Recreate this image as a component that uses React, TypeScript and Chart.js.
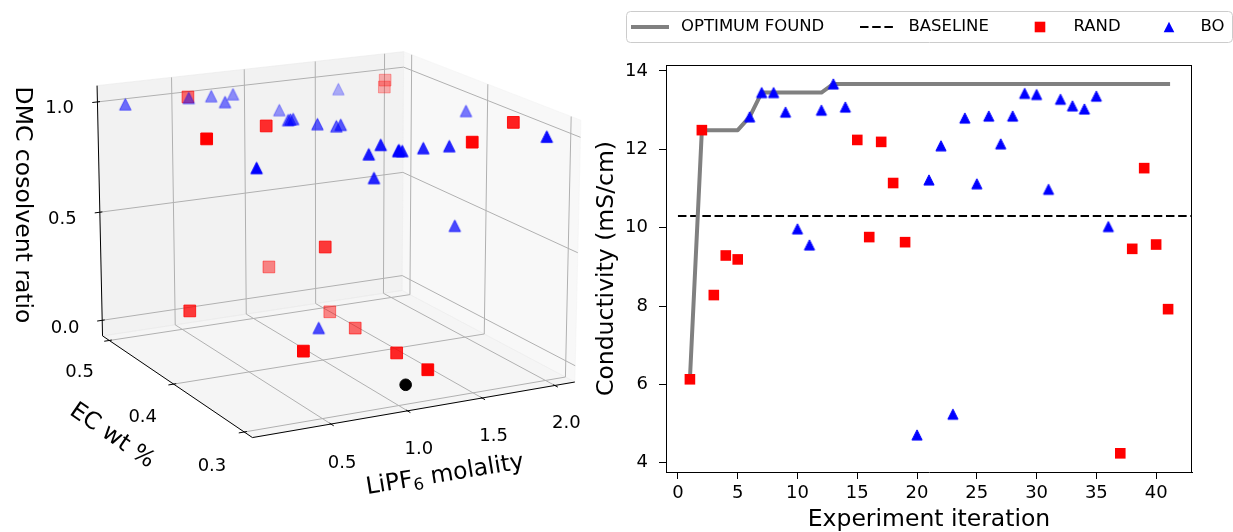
import React, { useEffect, useRef } from "react";
import { Chart, registerables } from "chart.js";

Chart.register(...registerables);

const FONT = "DejaVu Sans";

// ================= Right panel: conductivity vs. experiment iteration =================
const RAND_ITER = [1, 2, 3, 4, 5, 15, 16, 17, 18, 19, 37, 38, 39, 40, 41];
const RAND_COND = [6.13, 12.49, 8.28, 9.29, 9.19, 12.24, 9.76, 12.19, 11.14, 9.63, 4.24, 9.46, 11.52, 9.57, 7.92];
const BO_ITER = [6, 7, 8, 9, 10, 11, 12, 13, 14, 20, 21, 22, 23, 24, 25, 26, 27, 28, 29, 30, 31, 32, 33, 34, 35, 36];
const BO_COND = [12.83, 13.45, 13.45, 12.95, 9.97, 9.56, 13.0, 13.67, 13.08, 4.71, 11.22, 12.09, 5.24, 12.8, 11.12, 12.85, 12.14, 12.85, 13.43, 13.4, 10.98, 13.28, 13.11, 13.03, 13.36, 10.03];
const BASELINE_COND = 10.3;
const BASELINE_ITER_SPAN = [0, 43];
const ITER_TICKS = [0, 5, 10, 15, 20, 25, 30, 35, 40];
const COND_TICKS = [4, 6, 8, 10, 12, 14];
const ITER_RANGE = [-1, 43];
const COND_RANGE = [3.763, 14.153];

// ================= Left panel: 3D composition space =================
const RAND_LIPF6 = [0.561, 0.236, 0.729, 1.942, 1.931, 1.984, 1.641, 1.007, 0.988, 0.236, 1.293, 1.3, 0.608, 1.228, 1.236];
const RAND_EC = [0.5, 0.4, 0.422, 0.499, 0.498, 0.341, 0.33, 0.398, 0.474, 0.428, 0.449, 0.415, 0.347, 0.346, 0.308];
const RAND_DMC = [0.995, 0.981, 0.965, 0.97, 0.94, 1.0, 0.958, 0.442, 0.219, 0.176, 0.025, 0.013, 0.114, 0.042, 0.042];

const BO_LIPF6 = [0.131, 0.549, 0.688, 0.7, 0.828, 1.529, 1.095, 0.958, 0.958, 1.084, 1.193, 1.193, 0.405, 1.155, 1.086, 1.22, 1.241, 1.42, 1.558, 1.142, 2.004, 1.975, 1.679, 0.878, 1.23, 0.958];
const BO_EC = [0.498, 0.496, 0.493, 0.475, 0.491, 0.484, 0.48, 0.439, 0.432, 0.424, 0.42, 0.414, 0.367, 0.354, 0.356, 0.344, 0.343, 0.35, 0.343, 0.36, 0.403, 0.3, 0.357, 0.381, 0.345, 0.436];
const BO_DMC = [0.998, 0.997, 0.999, 0.997, 1.0, 0.98, 0.923, 0.948, 0.963, 0.942, 0.93, 0.945, 0.893, 0.95, 0.912, 0.933, 0.933, 0.92, 0.928, 0.798, 0.959, 1.0, 0.545, 0.123, 0.935, 0.955];

const BASE_LIPF6 = [1.072];
const BASE_EC = [0.305];
const BASE_DMC = [0.0];

const LIPF6_TICKS = [0.5, 1.0, 1.5, 2.0];
const EC_TICKS = [0.3, 0.4, 0.5];
const DMC_TICKS = [0.0, 0.5, 1.0];

const LI_LIM = [0.043, 2.097];
const EC_LIM = [0.2934, 0.5066];
const DMC_LIM = [-0.05, 1.05];

// camera (matplotlib-like perspective view)
const VIEW_AZIM = -117.5;
const VIEW_ELEV = 15.6;
const VIEW_DIST = 8.75;
const VIEW_SCALE = 2975;
const VIEW_CX = 333;
const VIEW_CY = 232;
const Z_ASPECT = 0.75;

const GRID_COLOR = "#b0b0b0";

function padLim(lim: number[]) {
  const r = (lim[1] - lim[0]) / 48;
  return [lim[0] - r, lim[1] + r];
}

function project(li: number, ec: number, dmc: number, off: number[] = [0, 0, 0]) {
  const X = (li - (LI_LIM[0] + LI_LIM[1]) / 2) / (LI_LIM[1] - LI_LIM[0]) + off[0];
  const Y = (ec - (EC_LIM[0] + EC_LIM[1]) / 2) / (EC_LIM[1] - EC_LIM[0]) + off[1];
  const Z = ((dmc - (DMC_LIM[0] + DMC_LIM[1]) / 2) / (DMC_LIM[1] - DMC_LIM[0])) * Z_ASPECT + off[2];
  const az = (VIEW_AZIM * Math.PI) / 180;
  const el = (VIEW_ELEV * Math.PI) / 180;
  const ca = Math.cos(az), sa = Math.sin(az), ce = Math.cos(el), se = Math.sin(el);
  const hr = -X * sa + Y * ca;
  const he = X * ca + Y * sa;
  const up = -se * he + ce * Z;
  const ez = ce * he + se * Z;
  const depth = VIEW_DIST - ez;
  return { x: VIEW_CX + (VIEW_SCALE * hr) / depth, y: VIEW_CY - (VIEW_SCALE * up) / depth, depth };
}

// matplotlib-like "^" marker (width == height, centred on its bounding box)
function triangleImage(size: number, color: string) {
  const n = Math.ceil(size) + 3;
  const c = document.createElement("canvas");
  c.width = n;
  c.height = n;
  const g = c.getContext("2d") as CanvasRenderingContext2D;
  const m = n / 2, h = size / 2;
  g.beginPath();
  g.moveTo(m, m - h);
  g.lineTo(m + h, m + h);
  g.lineTo(m - h, m + h);
  g.closePath();
  g.fillStyle = color;
  g.fill();
  g.lineWidth = 1;
  g.lineJoin = "miter";
  g.strokeStyle = color;
  g.stroke();
  return c;
}

function series3d(li: number[], ec: number[], dmc: number[], rgb: string) {
  const pts = li.map((v, i) => project(v, ec[i], dmc[i]));
  pts.sort((a, b) => b.depth - a.depth);
  const ds = pts.map((p) => p.depth);
  const dmin = Math.min(...ds), dmax = Math.max(...ds);
  const colors = pts.map((p) => {
    const a = dmax > dmin ? 1 - (0.7 * (p.depth - dmin)) / (dmax - dmin) : 1;
    return `rgba(${rgb},${a.toFixed(3)})`;
  });
  return { data: pts.map((p) => ({ x: p.x, y: p.y })), colors };
}

function polyline(ctx: CanvasRenderingContext2D, pts: { x: number; y: number }[], color: string, w: number) {
  ctx.beginPath();
  pts.forEach((p, i) => (i ? ctx.lineTo(p.x, p.y) : ctx.moveTo(p.x, p.y)));
  ctx.strokeStyle = color;
  ctx.lineWidth = w;
  ctx.stroke();
}

const box3dPlugin = {
  id: "box3d",
  beforeDatasetsDraw(chart: any) {
    const ctx: CanvasRenderingContext2D = chart.ctx;
    const sx = chart.scales.x, sy = chart.scales.y;
    const [l0, l1] = padLim(LI_LIM);
    const [e0, e1] = padLim(EC_LIM);
    const [z0, z1] = padLim(DMC_LIM);
    const P = (a: number, b: number, c: number, off?: number[]) => {
      const p = project(a, b, c, off);
      return { x: sx.getPixelForValue(p.x), y: sy.getPixelForValue(p.y) };
    };
    ctx.save();
    const face = (pts: { x: number; y: number }[], color: string) => {
      ctx.beginPath();
      pts.forEach((p, i) => (i ? ctx.lineTo(p.x, p.y) : ctx.moveTo(p.x, p.y)));
      ctx.closePath();
      ctx.fillStyle = color;
      ctx.fill();
      ctx.strokeStyle = color;
      ctx.lineWidth = 1;
      ctx.stroke();
    };
    // panes
    face([P(l0, e1, z0), P(l1, e1, z0), P(l1, e1, z1), P(l0, e1, z1)], "rgba(230,230,230,0.5)");
    face([P(l1, e0, z0), P(l1, e1, z0), P(l1, e1, z1), P(l1, e0, z1)], "rgba(242,242,242,0.5)");
    face([P(l0, e0, z0), P(l1, e0, z0), P(l1, e1, z0), P(l0, e1, z0)], "rgba(236,236,236,0.5)");
    // grid lines
    LIPF6_TICKS.forEach((t) => polyline(ctx, [P(t, e0, z0), P(t, e1, z0), P(t, e1, z1)], GRID_COLOR, 1));
    EC_TICKS.forEach((t) => polyline(ctx, [P(l0, t, z0), P(l1, t, z0), P(l1, t, z1)], GRID_COLOR, 1));
    DMC_TICKS.forEach((t) => polyline(ctx, [P(l0, e1, t), P(l1, e1, t), P(l1, e0, t)], GRID_COLOR, 1));
    // axis lines
    polyline(ctx, [P(l0, e0, z0), P(l1, e0, z0)], "#000", 1);
    polyline(ctx, [P(l0, e0, z0), P(l0, e1, z0)], "#000", 1);
    polyline(ctx, [P(l0, e1, z0), P(l0, e1, z1)], "#000", 1);
    // tick marks
    const dEC = (EC_LIM[1] - EC_LIM[0]) / 12;
    const dLI = (LI_LIM[1] - LI_LIM[0]) / 12;
    LIPF6_TICKS.forEach((t) => polyline(ctx, [P(t, e0 - 0.2 * dEC, z0), P(t, e0 + 0.1 * dEC, z0)], "#000", 1));
    EC_TICKS.forEach((t) => polyline(ctx, [P(l0 - 0.2 * dLI, t, z0), P(l0 + 0.1 * dLI, t, z0)], "#000", 1));
    DMC_TICKS.forEach((t) => polyline(ctx, [P(l0 - 0.2 * dLI, e1, t), P(l0 + 0.1 * dLI, e1, t)], "#000", 1));
    // tick labels
    ctx.fillStyle = "#000";
    ctx.textAlign = "center";
    ctx.textBaseline = "middle";
    ctx.font = `18px "${FONT}"`;
    LIPF6_TICKS.forEach((t) => {
      const p = P(t, e0, z0, [0, -0.067, -0.0948]);
      ctx.fillText(t.toFixed(1), p.x, p.y);
    });
    EC_TICKS.forEach((t) => {
      const p = P(l0, t, z0, [-0.0995, 0, -0.0849]);
      ctx.fillText(t.toFixed(1), p.x, p.y);
    });
    DMC_TICKS.forEach((t) => {
      const p = P(l0, e1, t, [-0.1304, -0.021, 0]);
      ctx.fillText(t.toFixed(1), p.x, p.y);
    });
    // axis titles
    ctx.font = `23.5px "${FONT}"`;
    ctx.save();
    ctx.translate(22, 205);
    ctx.rotate(Math.PI / 2);
    ctx.fillText("DMC cosolvent ratio", 0, 0);
    ctx.restore();

    ctx.save();
    ctx.translate(112, 436);
    ctx.rotate(0.6);
    ctx.fillText("EC wt %", 0, 0);
    ctx.restore();

    ctx.save();
    ctx.translate(445, 475);
    ctx.rotate(-0.162);
    const big = `23.5px "${FONT}"`;
    const small = `16.5px "${FONT}"`;
    ctx.font = big;
    const w1 = ctx.measureText("LiPF").width;
    const w3 = ctx.measureText(" molality").width;
    ctx.font = small;
    const w2 = ctx.measureText("6").width;
    let x = -(w1 + w2 + w3) / 2;
    ctx.textAlign = "left";
    ctx.font = big;
    ctx.fillText("LiPF", x, 0);
    x += w1;
    ctx.font = small;
    ctx.fillText("6", x, 6);
    x += w2;
    ctx.font = big;
    ctx.fillText(" molality", x, 0);
    ctx.restore();

    ctx.restore();
  },
};

const frameLegendPlugin = {
  id: "frameLegend",
  afterDatasetsDraw(chart: any) {
    const ctx: CanvasRenderingContext2D = chart.ctx;
    const { left, right, top, bottom } = chart.chartArea;
    ctx.save();
    ctx.strokeStyle = "#000";
    ctx.lineWidth = 1;
    ctx.beginPath();
    ctx.moveTo(left, top + 0.5);
    ctx.lineTo(right, top + 0.5);
    ctx.moveTo(right - 0.5, top);
    ctx.lineTo(right - 0.5, bottom);
    ctx.stroke();
    ctx.restore();
  },
  afterDraw(chart: any) {
    const ctx: CanvasRenderingContext2D = chart.ctx;
    const ox = 590;
    const cy = 27;
    ctx.save();
    const bx = 626 - ox + 0.5, by = 11.5, bw = 606, bh = 31, r = 4;
    ctx.beginPath();
    ctx.moveTo(bx + r, by);
    ctx.lineTo(bx + bw - r, by);
    ctx.quadraticCurveTo(bx + bw, by, bx + bw, by + r);
    ctx.lineTo(bx + bw, by + bh - r);
    ctx.quadraticCurveTo(bx + bw, by + bh, bx + bw - r, by + bh);
    ctx.lineTo(bx + r, by + bh);
    ctx.quadraticCurveTo(bx, by + bh, bx, by + bh - r);
    ctx.lineTo(bx, by + r);
    ctx.quadraticCurveTo(bx, by, bx + r, by);
    ctx.closePath();
    ctx.fillStyle = "rgba(255,255,255,0.8)";
    ctx.fill();
    ctx.strokeStyle = "#cccccc";
    ctx.lineWidth = 1;
    ctx.stroke();
    // handles
    ctx.strokeStyle = "#808080";
    ctx.lineWidth = 4;
    ctx.beginPath();
    ctx.moveTo(631 - ox, cy);
    ctx.lineTo(669 - ox, cy);
    ctx.stroke();
    ctx.strokeStyle = "#000";
    ctx.lineWidth = 2;
    ctx.setLineDash([8.5, 3.7]);
    ctx.beginPath();
    ctx.moveTo(860 - ox, cy);
    ctx.lineTo(894 - ox, cy);
    ctx.stroke();
    ctx.setLineDash([]);
    ctx.fillStyle = "#ff0000";
    ctx.fillRect(1040 - ox - 5.3, cy - 5.3, 10.6, 10.6);
    ctx.fillStyle = "#0000ff";
    ctx.beginPath();
    ctx.moveTo(1169 - ox, cy - 5.3);
    ctx.lineTo(1169 - ox + 5.3, cy + 5.3);
    ctx.lineTo(1169 - ox - 5.3, cy + 5.3);
    ctx.closePath();
    ctx.fill();
    // texts
    ctx.fillStyle = "#000";
    ctx.font = `16.5px "${FONT}"`;
    ctx.textAlign = "left";
    ctx.textBaseline = "middle";
    ctx.fillText("OPTIMUM FOUND", 681 - ox, cy);
    ctx.fillText("BASELINE", 908.5 - ox, cy);
    ctx.fillText("RAND", 1073.5 - ox, cy);
    ctx.fillText("BO", 1200.5 - ox, cy);
    ctx.restore();
  },
};

function runningBest() {
  const all: { x: number; y: number }[] = [];
  RAND_ITER.forEach((x, i) => all.push({ x, y: RAND_COND[i] }));
  BO_ITER.forEach((x, i) => all.push({ x, y: BO_COND[i] }));
  all.sort((a, b) => a.x - b.x);
  let best = -Infinity;
  return all.map((p) => {
    best = Math.max(best, p.y);
    return { x: p.x, y: best };
  });
}

export default function App() {
  const leftRef = useRef<HTMLCanvasElement>(null);
  const rightRef = useRef<HTMLCanvasElement>(null);

  useEffect(() => {
    Chart.defaults.font.family = FONT;
    Chart.defaults.color = "#000";

    const bo = series3d(BO_LIPF6, BO_EC, BO_DMC, "0,0,255");
    const rd = series3d(RAND_LIPF6, RAND_EC, RAND_DMC, "255,0,0");
    const base = BASE_LIPF6.map((v, i) => project(v, BASE_EC[i], BASE_DMC[i]));
    const boTriangles3d = bo.colors.map((c) => triangleImage(11.5, c));
    const boTriangle = triangleImage(10.2, "#0000ff");

    const left = new Chart(leftRef.current as HTMLCanvasElement, {
      type: "scatter",
      data: {
        datasets: [
          {
            label: "BO",
            data: bo.data,
            pointStyle: boTriangles3d,
            pointRadius: 7,
            clip: false,
            order: 0,
          },
          {
            label: "RAND",
            data: rd.data,
            pointStyle: "rect",
            pointRadius: 8.3,
            pointBackgroundColor: rd.colors,
            pointBorderColor: rd.colors,
            pointBorderWidth: 1,
            clip: false,
            order: 1,
          },
          {
            label: "Baseline",
            data: base.map((p) => ({ x: p.x, y: p.y })),
            pointStyle: "circle",
            pointRadius: 5.8,
            pointBackgroundColor: "#000",
            pointBorderColor: "#000",
            clip: false,
            order: 2,
          },
        ] as any,
      },
      options: {
        responsive: false,
        animation: false,
        devicePixelRatio: 1,
        events: [],
        layout: { autoPadding: false, padding: 0 },
        plugins: { legend: { display: false }, tooltip: { enabled: false } },
        scales: {
          x: { type: "linear", min: 0, max: 600, display: false },
          y: { type: "linear", min: 0, max: 532, reverse: true, display: false },
        },
      } as any,
      plugins: [box3dPlugin],
    });

    const right = new Chart(rightRef.current as HTMLCanvasElement, {
      type: "scatter",
      data: {
        datasets: [
          {
            label: "BO",
            data: BO_ITER.map((x, i) => ({ x, y: BO_COND[i] })),
            pointStyle: boTriangle,
            pointRadius: 6.5,
            order: 0,
          },
          {
            label: "RAND",
            data: RAND_ITER.map((x, i) => ({ x, y: RAND_COND[i] })),
            pointStyle: "rect",
            pointRadius: 7.5,
            pointBackgroundColor: "#ff0000",
            pointBorderColor: "#ff0000",
            pointBorderWidth: 0,
            order: 1,
          },
          {
            label: "OPTIMUM FOUND",
            data: runningBest(),
            showLine: true,
            pointRadius: 0,
            borderColor: "#808080",
            borderWidth: 4,
            borderCapStyle: "square",
            borderJoinStyle: "round",
            order: 2,
          },
          {
            label: "BASELINE",
            data: BASELINE_ITER_SPAN.map((x) => ({ x, y: BASELINE_COND })),
            showLine: true,
            pointRadius: 0,
            borderColor: "#000",
            borderWidth: 2,
            borderDash: [8.5, 3.7],
            order: 3,
          },
        ] as any,
      },
      options: {
        responsive: false,
        animation: false,
        devicePixelRatio: 1,
        events: [],
        layout: { autoPadding: false, padding: { left: 0, right: 41, top: 65, bottom: 0 } },
        plugins: { legend: { display: false }, tooltip: { enabled: false } },
        scales: {
          x: {
            type: "linear",
            min: ITER_RANGE[0],
            max: ITER_RANGE[1],
            afterBuildTicks: (s: any) => {
              s.ticks = ITER_TICKS.map((v) => ({ value: v }));
            },
            afterFit: (s: any) => {
              s.height = 60;
            },
            ticks: {
              font: { size: 18, lineHeight: 1 },
              color: "#000",
              padding: 5,
              maxRotation: 0,
              autoSkip: false,
              callback: (v: any) => String(v),
            },
            grid: { display: true, drawOnChartArea: false, drawTicks: true, tickLength: 7, tickColor: "#000", tickWidth: 1 },
            border: { display: true, color: "#000", width: 1 },
            title: {
              display: true,
              text: "Experiment iteration",
              color: "#000",
              font: { size: 23.5, lineHeight: 1 },
              padding: { top: 0, bottom: 0 },
            },
          },
          y: {
            type: "linear",
            min: COND_RANGE[0],
            max: COND_RANGE[1],
            afterBuildTicks: (s: any) => {
              s.ticks = COND_TICKS.map((v) => ({ value: v }));
            },
            afterFit: (s: any) => {
              s.width = 76;
            },
            ticks: {
              font: { size: 18 },
              color: "#000",
              padding: 11,
              autoSkip: false,
              callback: (v: any) => String(v),
            },
            grid: { display: true, drawOnChartArea: false, drawTicks: true, tickLength: 7, tickColor: "#000", tickWidth: 1 },
            border: { display: true, color: "#000", width: 1 },
            title: {
              display: true,
              text: "Conductivity (mS/cm)",
              color: "#000",
              font: { size: 23.5, lineHeight: 1.2 },
              padding: { top: 3, bottom: 0 },
            },
          },
        },
      } as any,
      plugins: [frameLegendPlugin],
    });

    return () => {
      left.destroy();
      right.destroy();
    };
  }, []);

  return (
    <div style={{ position: "absolute", left: 0, top: 0, width: 1233, height: 532, background: "#fff", overflow: "hidden" }}>
      <canvas ref={leftRef} width={600} height={532} style={{ position: "absolute", left: 0, top: 0, width: 600, height: 532 }} />
      <canvas ref={rightRef} width={643} height={532} style={{ position: "absolute", left: 590, top: 0, width: 643, height: 532 }} />
    </div>
  );
}
